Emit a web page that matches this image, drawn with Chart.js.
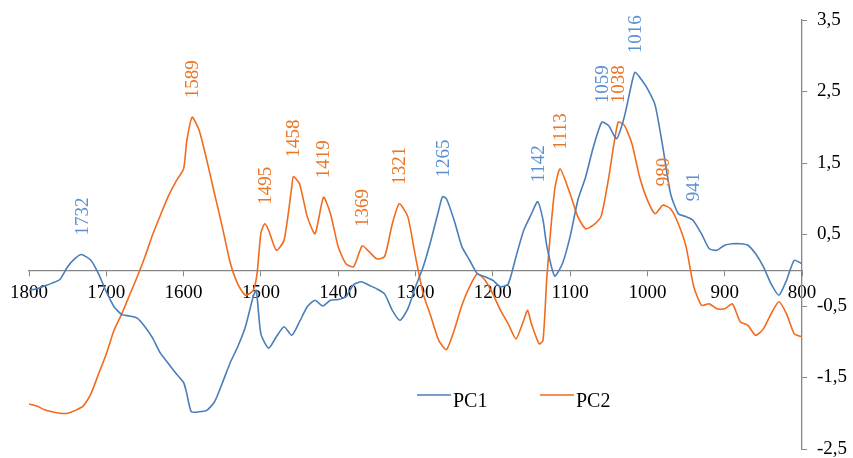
<!DOCTYPE html>
<html>
<head>
<meta charset="utf-8">
<script src="https://cdn.jsdelivr.net/npm/chart.js@4.4.0/dist/chart.umd.min.js"></script>
<style>
  html, body { margin: 0; padding: 0; background: #fff; }
  #wrap { width: 853px; height: 458px; position: relative; }
</style>
</head>
<body>
<div id="wrap"><canvas id="pcChart"></canvas></div>
<script>
// wavenumbers (cm-1) and loadings
var pc1Wn = [1800,1790,1780,1770,1760,1750,1740,1732,1720,1710,1700,1690,1680,1670,1660,1650,1640,1630,1620,1610,1600,1596,1590,1580,1570,1560,1550,1540,1530,1520,1510,1506,1500,1490,1480,1470,1460,1450,1440,1430,1420,1410,1400,1390,1380,1370,1360,1350,1340,1330,1320,1310,1300,1290,1280,1270,1265,1260,1250,1240,1230,1220,1210,1200,1190,1180,1170,1160,1150,1142,1135,1130,1120,1110,1100,1090,1080,1070,1059,1050,1040,1030,1020,1016,1010,1000,990,980,970,960,950,941,930,920,910,900,890,880,870,860,850,840,830,820,810,800];
var pc1Val = [-0.28,-0.26,-0.22,-0.18,-0.13,0.05,0.17,0.22,0.14,-0.05,-0.30,-0.51,-0.62,-0.64,-0.67,-0.79,-0.95,-1.16,-1.30,-1.44,-1.57,-1.72,-1.98,-1.98,-1.96,-1.84,-1.58,-1.30,-1.07,-0.79,-0.37,-0.28,-0.89,-1.09,-0.93,-0.79,-0.91,-0.72,-0.51,-0.42,-0.50,-0.42,-0.41,-0.37,-0.20,-0.16,-0.21,-0.26,-0.33,-0.56,-0.70,-0.54,-0.23,0.05,0.42,0.84,1.03,1.00,0.70,0.33,0.14,-0.05,-0.09,-0.14,-0.23,-0.19,0.19,0.56,0.79,0.96,0.70,0.33,-0.08,0.09,0.47,0.98,1.30,1.72,2.07,2.02,1.84,2.14,2.63,2.77,2.70,2.54,2.31,1.72,1.07,0.79,0.75,0.70,0.51,0.30,0.28,0.35,0.37,0.37,0.35,0.23,0.05,-0.19,-0.35,-0.14,0.14,0.09];

var pc2Wn = [1800,1790,1780,1770,1760,1750,1740,1730,1720,1710,1700,1690,1680,1670,1660,1650,1640,1630,1620,1610,1600,1596,1589,1580,1570,1560,1550,1540,1530,1520,1510,1505,1500,1495,1490,1480,1470,1460,1458,1450,1440,1430,1419,1410,1400,1390,1380,1369,1360,1350,1340,1330,1321,1310,1300,1290,1280,1270,1260,1250,1240,1230,1220,1210,1200,1190,1180,1170,1160,1155,1150,1140,1135,1130,1120,1113,1100,1090,1080,1070,1060,1050,1038,1030,1020,1010,1000,990,980,970,960,950,940,930,920,910,900,890,880,870,860,850,840,830,820,810,800];
var pc2Val = [-1.87,-1.90,-1.95,-1.98,-2.00,-2.00,-1.96,-1.90,-1.73,-1.45,-1.17,-0.84,-0.61,-0.35,-0.09,0.19,0.50,0.77,1.03,1.24,1.42,1.80,2.14,1.96,1.54,1.07,0.61,0.12,-0.19,-0.35,-0.28,-0.05,0.52,0.65,0.56,0.28,0.42,1.17,1.31,1.21,0.75,0.51,1.02,0.79,0.33,0.09,0.05,0.34,0.26,0.16,0.19,0.65,0.93,0.75,0.19,-0.33,-0.65,-0.98,-1.11,-0.84,-0.49,-0.23,-0.05,-0.14,-0.33,-0.56,-0.75,-0.96,-0.70,-0.56,-0.75,-1.03,-0.98,-0.09,1.12,1.42,1.07,0.75,0.58,0.63,0.75,1.30,2.07,2.03,1.77,1.30,0.98,0.79,0.91,0.86,0.65,0.33,-0.23,-0.49,-0.47,-0.54,-0.54,-0.47,-0.72,-0.77,-0.91,-0.82,-0.61,-0.44,-0.61,-0.89,-0.93];

// peaks marked on the plot
var pc1Peaks = [1732, 1265, 1142, 1059, 1016, 941];
var pc2Peaks = [1589, 1495, 1458, 1419, 1369, 1321, 1113, 1038, 980];

var xTicks = [1800, 1700, 1600, 1500, 1400, 1300, 1200, 1100, 1000, 900, 800];
var yTicks = [-2.5, -1.5, -0.5, 0.5, 1.5, 2.5, 3.5];

var blue = '#4A7EBB';
var orange = '#F26B1D';
var axisGrey = '#868686';
var serif = "'Liberation Serif', 'DejaVu Serif', serif";

function toPoints(wn, val) {
  return wn.map(function (w, i) { return { x: w, y: val[i] }; });
}

var peakLabels = {
  id: 'peakLabels',
  afterDatasetsDraw: function (chart) {
    var ctx = chart.ctx;
    var xs = chart.scales.x, ys = chart.scales.y;
    var sets = [[pc1Peaks, 0, '#5B8FD2'], [pc2Peaks, 1, '#EC7424']];
    ctx.save();
    ctx.font = '19px ' + serif;
    ctx.textAlign = 'left';
    ctx.textBaseline = 'middle';
    sets.forEach(function (s) {
      var data = chart.data.datasets[s[1]].data;
      ctx.fillStyle = s[2];
      s[0].forEach(function (wn) {
        var pt = data.find(function (p) { return p.x === wn; });
        if (!pt) return;
        var px = xs.getPixelForValue(wn);
        var py = ys.getPixelForValue(pt.y) - 19;
        ctx.save();
        ctx.translate(px, py);
        ctx.rotate(-Math.PI / 2);
        ctx.fillText(String(wn), 0, 1);
        ctx.restore();
      });
    });
    ctx.restore();
  }
};

// legend sits inside the plot, under the curves
var innerLegend = {
  id: 'innerLegend',
  afterDraw: function (chart) {
    var ctx = chart.ctx;
    var starts = [417, 540];
    ctx.save();
    ctx.font = '20px ' + serif;
    ctx.textBaseline = 'alphabetic';
    chart.data.datasets.forEach(function (ds, i) {
      var x0 = starts[i];
      ctx.strokeStyle = ds.borderColor;
      ctx.lineWidth = 1.6;
      ctx.beginPath();
      ctx.moveTo(x0, 395);
      ctx.lineTo(x0 + 34, 395);
      ctx.stroke();
      ctx.fillStyle = '#000';
      ctx.fillText(ds.label, x0 + 36, 407);
    });
    ctx.restore();
  }
};

var ctx = document.getElementById('pcChart').getContext('2d');
var chart = new Chart(ctx, {
  type: 'line',
  data: {
    datasets: [
      { label: 'PC1', data: toPoints(pc1Wn, pc1Val), borderColor: blue, borderWidth: 1.6, pointRadius: 0, tension: 0.2, fill: false },
      { label: 'PC2', data: toPoints(pc2Wn, pc2Val), borderColor: orange, borderWidth: 1.6, pointRadius: 0, tension: 0.2, fill: false }
    ]
  },
  options: {
    responsive: true,
    maintainAspectRatio: false,
    animation: false,
    layout: { padding: { left: 29, top: 20, right: 0, bottom: 9 } },
    plugins: {
      legend: { display: false },
      tooltip: { enabled: false }
    },
    scales: {
      x: {
        type: 'linear',
        position: { y: 0 },
        min: 800,
        max: 1800,
        reverse: true,
        afterBuildTicks: function (axis) {
          axis.ticks = xTicks.map(function (v) { return { value: v }; });
        },
        grid: { drawOnChartArea: false, drawTicks: true, tickLength: 5, color: axisGrey },
        border: { display: true, color: axisGrey, width: 1.3 },
        ticks: {
          color: '#000',
          font: { family: serif, size: 19 },
          padding: 6,
          maxRotation: 0,
          autoSkip: false,
          callback: function (v) { return String(v); }
        }
      },
      y: {
        type: 'linear',
        position: 'right',
        min: -2.5,
        max: 3.5,
        afterBuildTicks: function (axis) {
          axis.ticks = yTicks.map(function (v) { return { value: v }; });
        },
        afterFit: function (axis) {
          axis.width = 51;
          axis.paddingTop = 0;
          axis.paddingBottom = 0;
        },
        grid: { drawOnChartArea: false, drawTicks: true, tickLength: 5, color: axisGrey },
        border: { display: true, color: axisGrey, width: 1.3 },
        ticks: {
          color: '#000',
          font: { family: serif, size: 19 },
          padding: 10,
          callback: function (v) { return v.toFixed(1).replace('.', ','); }
        }
      }
    }
  },
  plugins: [peakLabels, innerLegend]
});
</script>
</body>
</html>
